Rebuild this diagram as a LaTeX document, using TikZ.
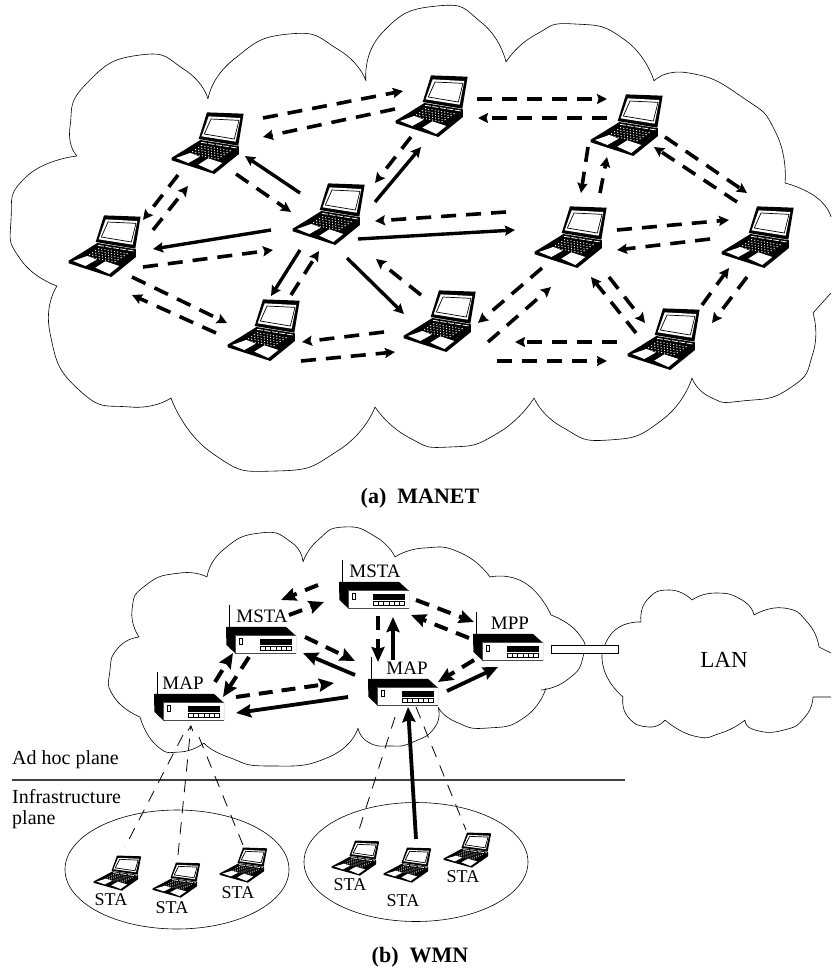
\documentclass[tikz,border=0pt]{standalone}
\usepackage{fontspec}
\setmainfont{Liberation Serif}
\usepackage{tikz}
\usetikzlibrary{arrows.meta, positioning, calc}
\tikzset{
  cloudline/.style={draw, line width=.6pt},
  dlink/.style={line width=3.6pt, dash pattern=on 15pt off 10pt, -{Stealth[length=10pt,width=10pt,inset=1.5pt]}},
  slink/.style={line width=3.4pt, -{Stealth[length=10pt,width=10pt,inset=1.5pt]}},
  bigdlink/.style={line width=4pt, dash pattern=on 14pt off 9pt, -{Stealth[length=15pt,width=13pt,inset=2pt]}},
  bigslink/.style={line width=3.8pt, -{Stealth[length=15pt,width=13pt,inset=2pt]}},
  thinlink/.style={line width=.8pt, dash pattern=on 12pt off 9pt},
  lbl/.style={inner sep=0pt, font=\fontsize{19}{19}\selectfont},
  planelbl/.style={inner sep=0pt, font=\fontsize{20}{20}\selectfont},
  stalbl/.style={inner sep=0pt, font=\fontsize{18}{18}\selectfont},
  laptopicon/.pic={
    \begin{scope}[x=.333pt,y=-.333pt,shift={(-168,-162)}]
      \fill (168,70) -- (278,74) -- (262,170) -- (143,150) -- cycle;
      \fill[white] (173,82) -- (268,87) -- (254,158) -- (152,142) -- cycle;
      \draw[line width=.7pt] (180,90) -- (264,94) -- (250,150) -- (160,135) -- cycle;
      \fill (62,206) -- (100,183) -- (148,153) -- (264,172) -- (264,195) -- (190,255) -- (62,214) -- cycle;
      \draw[white, line width=.8pt, dash pattern=on 6pt off 1.5pt] (150,160) -- (258,177);
      \foreach \i in {0,...,9}
        \foreach \j in {0,...,4}
          \fill[white] ({152+\i*9.5-\j*9},{170+\i*1.7+\j*6}) circle (2);
      \fill[white] (75,207) -- (118,192) -- (146,203) -- (112,222) -- cycle;
      \fill[white] (142,227) -- (172,208) -- (214,222) -- (184,246) -- cycle;
    \end{scope}
  },
  routericon/.pic={
    \begin{scope}[x=.333pt,y=-.333pt,shift={(-190,-157.5)}]
      \fill (85,118) -- (265,118) -- (295,145) -- (112,145) -- (112,197) -- (86,172) -- cycle;
      \draw[black!70, line width=.8pt, fill=white] (112,145) rectangle (295,197);
      \draw[line width=.5pt] (126,153) rectangle (135,170);
      \fill (188,155) rectangle (282,172);
      \draw[line width=.6pt] (188,175) rectangle (282,188);
      \foreach \i in {1,...,5}
        \draw[line width=.6pt] ({188+\i*15.6},175) -- ({188+\i*15.6},188);
    \end{scope}
  },
  laptop/.style={inner sep=0pt, minimum width=76pt, minimum height=62pt,
    path picture={\pic at (path picture bounding box.center) {laptopicon};}},
  smalllaptop/.style={inner sep=0pt, minimum width=48pt, minimum height=36pt,
    path picture={\pic[xscale=.66,yscale=.57] at (path picture bounding box.center) {laptopicon};}},
  router/.style={inner sep=0pt, minimum width=70pt, minimum height=26.5pt,
    path picture={\pic at (path picture bounding box.center) {routericon};}}
}
\begin{document}
\begin{tikzpicture}[x=1pt,y=-1pt]
    \useasboundingbox (0,0) rectangle (831,971);
    \draw[cloudline]
      plot[smooth,tension=1] coordinates {(77,156)(70,127)(87,83)(140,55)(185,70)(208,99)}
      plot[smooth,tension=1] coordinates {(208,99)(233,60)(289,34)(339,50)(366,81)}
      plot[smooth,tension=1] coordinates {(366,81)(382,33)(437,6)(482,23)(506,62)}
      plot[smooth,tension=1] coordinates {(506,62)(535,35)(575,24)(625,40)(654,81)}
      plot[smooth,tension=1] coordinates {(654,81)(689,73)(742,97)(776,133)(785,183)}
      plot[smooth,tension=1] coordinates {(785,183)(816,197)(831,217)}
      plot[smooth,tension=1] coordinates {(831,293)(813,313)}
      plot[smooth,tension=1] coordinates {(813,313)(813,353)(790,388)(742,401)(710,397)(692,378)}
      plot[smooth,tension=1] coordinates {(692,378)(662,420)(609,440)(562,427)(534,398)}
      plot[smooth,tension=1] coordinates {(534,398)(498,433)(450,447)(408,437)(375,407)}
      plot[smooth,tension=1] coordinates {(375,407)(339,450)(276,471)(212,453)(171,398)}
      plot[smooth,tension=1] coordinates {(171,398)(130,407)(79,390)(50,333)(57,286)}
      plot[smooth,tension=1] coordinates {(57,286)(21,260)(11,220)(26,177)(77,156)};
    \draw[cloudline]
      plot[smooth,tension=1] coordinates {(139,637)(132,610)(146,585)(180,573)(207,577)}
      plot[smooth,tension=1] coordinates {(207,577)(223,550)(260,533)(291,542)(303,562)}
      plot[smooth,tension=1] coordinates {(303,562)(318,540)(344,527)(376,537)(395,557)}
      plot[smooth,tension=1] coordinates {(395,557)(424,548)(461,553)(490,577)}
      plot[smooth,tension=1] coordinates {(490,577)(525,583)(551,615)}
      plot[smooth,tension=1] coordinates {(551,615)(578,633)(583,657)(567,680)(541,690)}
      plot[smooth,tension=1] coordinates {(546,688)(525,717)(488,728)(456,722)(438,707)}
      plot[smooth,tension=1] coordinates {(438,707)(435,727)(413,742)(390,746)(368,742)(358,728)}
      plot[smooth,tension=1] coordinates {(358,728)(329,757)(270,766)(228,757)(204,743)}
      plot[smooth,tension=1] coordinates {(204,743)(180,752)(156,745)(140,717)}
      plot[smooth,tension=1] coordinates {(140,717)(114,697)(110,670)(119,647)(139,637)};
    \draw[cloudline]
      plot[smooth,tension=1] coordinates {(602,655)(615,630)(641,622)}
      plot[smooth,tension=1] coordinates {(641,622)(647,600)(670,590)(692,600)}
      plot[smooth,tension=1] coordinates {(692,600)(715,593)(742,600)(754,615)}
      plot[smooth,tension=1] coordinates {(754,615)(784,608)(808,623)(819,647)}
      plot[smooth,tension=1] coordinates {(819,647)(831,653)}
      plot[smooth,tension=1] coordinates {(831,697)(813,697)}
      plot[smooth,tension=1] coordinates {(813,697)(805,717)(784,730)(755,730)(745,720)}
      plot[smooth,tension=1] coordinates {(745,720)(721,733)(694,736)(665,720)}
      plot[smooth,tension=1] coordinates {(665,720)(649,727)(628,717)(623,697)}
      plot[smooth,tension=1] coordinates {(623,697)(607,677)(602,655)};
    \node(L1) at (207,143) [laptop] {};
    \node(L2) at (431,106) [laptop] {};
    \node(L3) at (626,125) [laptop] {};
    \node(L4) at (104,246) [laptop] {};
    \node(L5) at (328,214) [laptop] {};
    \node(L6) at (570,237) [laptop] {};
    \node(L7) at (757,237) [laptop] {};
    \node(L8) at (263,330) [laptop] {};
    \node(L9) at (439,321) [laptop] {};
    \node(L10) at (663,339) [laptop] {};
    \draw[dlink] ($(L1)+(56,-25)$) -- ($(L2)+(-28,-15)$);
    \draw[dlink] ($(L2)+(-36,3)$) -- ($(L1)+(56,-6)$);
    \draw[dlink] ($(L2)+(46,-7)$) -- ($(L3)+(-19,-26)$);
    \draw[dlink] ($(L3)+(-19,-7)$) -- ($(L2)+(47,12)$);
    \draw[dlink] ($(L3)+(39,12)$) -- ($(L7)+(-10,-44)$);
    \draw[dlink] ($(L7)+(-20,-35)$) -- ($(L3)+(28,22)$);
    \draw[dlink] ($(L3)+(-38,22)$) -- ($(L6)+(11,-44)$);
    \draw[dlink] ($(L6)+(30,-44)$) -- ($(L3)+(-19,32)$);
    \draw[dlink] ($(L6)+(47,-7)$) -- ($(L7)+(-28,-17)$);
    \draw[dlink] ($(L7)+(-47,2)$) -- ($(L6)+(47,13)$);
    \draw[dlink] ($(L7)+(-10,40)$) -- ($(L10)+(49,-16)$);
    \draw[dlink] ($(L10)+(39,-34)$) -- ($(L7)+(-28,31)$);
    \draw[dlink] ($(L6)+(39,40)$) -- ($(L10)+(-18,-16)$);
    \draw[dlink] ($(L10)+(-27,-6)$) -- ($(L6)+(21,40)$);
    \draw[dlink] ($(L10)+(-46,3)$) -- ($(L9)+(76,21)$);
    \draw[dlink] ($(L9)+(58,40)$) -- ($(L10)+(-56,22)$);
    \draw[dlink] ($(L6)+(-28,31)$) -- ($(L9)+(39,2)$);
    \draw[dlink] ($(L9)+(49,21)$) -- ($(L6)+(-19,50)$);
    \draw[dlink] ($(L9)+(-55,11)$) -- ($(L8)+(39,12)$);
    \draw[dlink] ($(L8)+(38,31)$) -- ($(L9)+(-44,31)$);
    \draw[dlink] ($(L8)+(-47,3)$) -- ($(L4)+(28,49)$);
    \draw[dlink] ($(L4)+(28,31)$) -- ($(L8)+(-36,-7)$);
    \draw[slink] ($(L5)+(-28,36)$) -- ($(L8)+(8,-34)$);
    \draw[dlink] ($(L8)+(28,-35)$) -- ($(L5)+(-9,37)$);
    \draw[slink] ($(L5)+(19,44)$) -- ($(L9)+(-35,-7)$);
    \draw[dlink] ($(L9)+(-18,-26)$) -- ($(L5)+(48,45)$);
    \draw[slink] ($(L5)+(30,25)$) -- ($(L6)+(-55,-7)$);
    \draw[dlink] ($(L6)+(-64,-25)$) -- ($(L5)+(47,7)$);
    \draw[slink] ($(L5)+(-57,16)$) -- ($(L4)+(49,3)$);
    \draw[dlink] ($(L4)+(39,21)$) -- ($(L5)+(-55,36)$);
    \draw[slink] ($(L5)+(-28,-21)$) -- ($(L1)+(38,13)$);
    \draw[dlink] ($(L1)+(29,31)$) -- ($(L5)+(-37,-2)$);
    \draw[slink] ($(L5)+(47,-12)$) -- ($(L2)+(-10,41)$);
    \draw[dlink] ($(L2)+(-20,31)$) -- ($(L5)+(47,-31)$);
    \draw[dlink] ($(L1)+(-29,32)$) -- ($(L4)+(39,-26)$);
    \draw[dlink] ($(L4)+(49,-16)$) -- ($(L1)+(-19,43)$);
    \node(capA) at (420,498) [font=\fontsize{22}{22}\selectfont\bfseries] {(a)\ \ MANET};
    \node(R1) at (374,595) [router, label={[lbl,label distance=4pt,xshift=1pt]above:MSTA}] {};
    \node(R2) at (261,640) [router, label={[lbl,label distance=4pt,xshift=1pt]above:MSTA}] {};
    \node(R3) at (508,647) [router, label={[lbl,label distance=4pt,xshift=2pt]above:MPP}] {};
    \node(R4) at (403,692) [router, label={[lbl,label distance=4pt,xshift=4pt]above:MAP}] {};
    \node(R5) at (189,707) [router, label={[lbl,label distance=4pt,xshift=-6pt]above:MAP}] {};
    \foreach \r in {R1,R2,R3,R4,R5}
      \draw[line width=.8pt] ($(\r.north west)+(4,0)$) -- ++(0,-22);
    \draw[bigdlink] ($(R1)+(-56,-10)$) -- ($(R2)+(20,-40)$);
    \draw[bigdlink] ($(R2)+(28,-25)$) -- ($(R1)+(-50,7)$);
    \draw[bigdlink] ($(R1)+(42,5)$) -- ($(R3)+(-34,-25)$);
    \draw[bigdlink] ($(R3)+(-39,-9)$) -- ($(R1)+(37,20)$);
    \draw[bigdlink] ($(R1)+(4,21)$) -- ($(R4)+(-25,-30)$);
    \draw[bigslink] ($(R4)+(-10,-32)$) -- ($(R1)+(19,22)$);
    \draw[bigdlink] ($(R2)+(44,-3)$) -- ($(R4)+(-48,-31)$);
    \draw[bigslink] ($(R4)+(-48,-17)$) -- ($(R2)+(42,13)$);
    \draw[bigdlink] ($(R3)+(-34,13)$) -- ($(R4)+(35,-10)$);
    \draw[bigslink] ($(R4)+(44,-1)$) -- ($(R3)+(-10,20)$);
    \draw[bigdlink] ($(R5)+(26,-25)$) -- ($(R2)+(-28,13)$);
    \draw[bigdlink] ($(R2)+(-12,17)$) -- ($(R5)+(34,-10)$);
    \draw[bigdlink] ($(R5)+(47,-10)$) -- ($(R4)+(-69,-9)$);
    \draw[bigslink] ($(R4)+(-55,5)$) -- ($(R5)+(47,6)$);
    \node(W) at (551,649) [draw, line width=.7pt, fill=white, minimum width=67pt, minimum height=8pt, inner sep=0pt, anchor=west] {};
    \node(LAN) at (724,660) [inner sep=0pt, font=\fontsize{23}{23}\selectfont] {LAN};
    \coordinate(pleft) at (12,780);
    \coordinate(pright) at (625,780);
    \draw[black!75, line width=1.5pt] (pleft) -- (pright);
    \node(adhoc) at (12,760) [planelbl, anchor=west] {Ad hoc plane};
    \node(infra) at (12,797) [planelbl, anchor=west] {Infrastructure};
    \node(pl) at (12,820) [planelbl, anchor=west] {plane};
    \draw[cloudline] (177,869.5) ellipse (112 and 59.5);
    \draw[cloudline] (416,862) ellipse (112 and 59.5);
    \node(S1) at (117,873) [smalllaptop, label={[stalbl,label distance=2pt,xshift=-6pt]below:STA}] {};
    \node(S2) at (176,880) [smalllaptop, label={[stalbl,label distance=3pt,xshift=-4pt]below:STA}] {};
    \node(S3) at (243,865) [smalllaptop, label={[stalbl,label distance=3pt,xshift=-5pt]below:STA}] {};
    \node(S4) at (355,858) [smalllaptop, label={[stalbl,label distance=2pt,xshift=-5pt]below:STA}] {};
    \node(S5) at (407,865) [smalllaptop, label={[stalbl,label distance=11pt,xshift=-4pt]below:STA}] {};
    \node(S6) at (467,850) [smalllaptop, label={[stalbl,label distance=2pt,xshift=-4pt]below:STA}] {};
    \draw[thinlink] ($(R5)+(-6,28)$) -- ($(S1)+(8,-26)$);
    \draw[thinlink, -{Straight Barb[length=5pt,width=5pt]}] ($(S2)+(2,-25)$) -- ($(R5)+(2,18)$);
    \draw[thinlink] ($(R5)+(10,30)$) -- ($(S3)+(0,-20)$);
    \draw[thinlink] ($(R4)+(-8,25)$) -- ($(S4)+(3,-25)$);
    \draw[bigslink] ($(S5)+(9,-26)$) -- ($(R4)+(5,15)$);
    \draw[thinlink] ($(R4)+(13,15)$) -- ($(S6)+(-1,-20)$);
    \node(capB) at (420,957) [font=\fontsize{22}{22}\selectfont\bfseries] {(b)\ \ WMN};
  \end{tikzpicture}
\end{document}
